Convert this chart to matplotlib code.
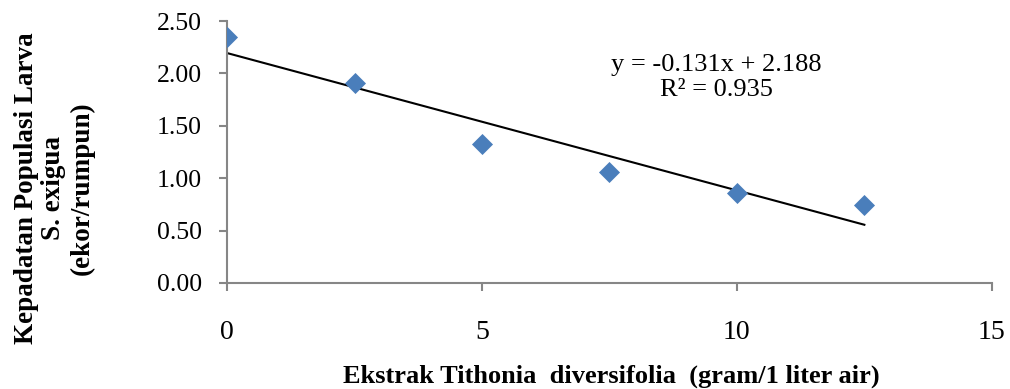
import matplotlib
matplotlib.use("Agg")
import matplotlib.pyplot as plt
import numpy as np

x_vals = [0, 2.5, 5, 7.5, 10, 12.5]
y_vals = [2.35, 1.91, 1.33, 1.06, 0.86, 0.74]
x_ticks = [0, 5, 10, 15]
y_ticks = [0.0, 0.5, 1.0, 1.5, 2.0, 2.5]
eq_text = "y = -0.131x + 2.188\nR² = 0.935"
xlabel = "Ekstrak Tithonia  diversifolia  (gram/1 liter air)"
ylabel = "Kepadatan Populasi Larva\nS. exigua\n(ekor/rumpun)"

plt.rcParams['font.family'] = ['Liberation Serif', 'DejaVu Serif']

fig = plt.figure(figsize=(10.10, 3.89), dpi=100)
ax = fig.add_axes([0.2248, 0.2725, 0.982 - 0.2248, 0.946 - 0.2725])

slope, intercept = np.polyfit(x_vals, y_vals, 1)
xs = np.array([min(x_vals), max(x_vals)])
ax.plot(xs, slope * xs + intercept, color='black', lw=1.5, zorder=2)
ax.scatter(x_vals, y_vals, marker='D', s=115, color='#4a7ebb', zorder=3, linewidths=0)

ax.set_xlim(0, 15)
ax.set_ylim(0, 2.5)
ax.set_xticks(x_ticks)
ax.set_xticklabels([str(t) for t in x_ticks])
ax.set_yticks(y_ticks)
ax.set_yticklabels([f"{t:.2f}" for t in y_ticks])

for s in ['top', 'right']:
    ax.spines[s].set_visible(False)
for s in ['left', 'bottom']:
    ax.spines[s].set_color('#868686')
    ax.spines[s].set_linewidth(1.5)
ax.tick_params(axis='both', colors='#868686', length=6, width=1.5, direction='out', labelcolor='black')
ax.tick_params(axis='x', pad=21, labelsize=20)
ax.tick_params(axis='y', pad=12, labelsize=18.5)

ax.text(9.6, 1.96, eq_text, ha='center', va='center', fontsize=19, linespacing=1.2)

fig.text(0.605, 0.033, xlabel, ha='center', va='center', fontsize=19, fontweight='bold')
fig.text(0.0535, 0.517, ylabel, ha='center', va='center', rotation=90, fontsize=19.5,
         fontweight='bold', linespacing=1.15)

fig.savefig("out.png", dpi=100)
